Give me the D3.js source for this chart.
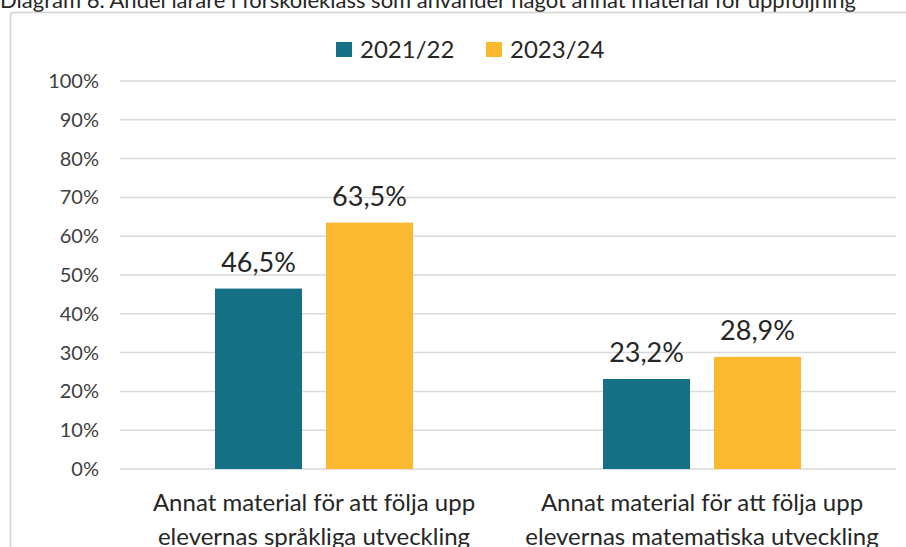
<!DOCTYPE html>
<html>
<head>
<meta charset="utf-8">
<script src="https://cdn.jsdelivr.net/npm/d3@7"></script>
<style>
  body { margin: 0; background: #fff; }
  text { font-family: Lato, "Open Sans", sans-serif; fill: #262626; }
</style>
</head>
<body>
<svg width="906" height="547"></svg>
<script>
// data
var categories = [
    ['Annat material för att följa upp', 'elevernas språkliga utveckling'],
    ['Annat material för att följa upp', 'elevernas matematiska utveckling']
];
var seriesNames = ['2021/22', '2023/24'];
var values2122 = [46.5, 23.2];
var values2324 = [63.5, 28.9];
var yTicks = [0, 10, 20, 30, 40, 50, 60, 70, 80, 90, 100];
var colors = ['#167085', '#fbb931'];

var svg = d3.select('svg');
var padding = {t: 81, r: 10, b: 78, l: 120};
var plotW = 896 - padding.l;
var plotH = 469 - padding.t;

// title, top is cut off in the original
svg.append('text')
    .attr('x', 0)
    .attr('y', 8)
    .style('font-size', '22px')
    .text('Diagram 6. Andel lärare i förskoleklass som använder något annat material för uppföljning');

// chart frame
svg.append('rect')
    .attr('x', 10.5)
    .attr('y', 12.5)
    .attr('width', 1000)
    .attr('height', 1000)
    .attr('rx', 3)
    .style('fill', '#fff')
    .style('stroke', '#d4d4d4')
    .style('stroke-width', 1.5);

var xScale = d3.scaleBand()
    .domain(d3.range(categories.length))
    .range([0, plotW]);
var xInner = d3.scaleBand()
    .domain(seriesNames)
    .range([95, 293])
    .paddingInner(0.216);
var yScale = d3.scaleLinear().domain([0, 100]).range([plotH, 0]);

var chartG = svg.append('g')
    .attr('transform', 'translate(' + [padding.l, padding.t] + ')');

// gridlines
chartG.selectAll('.grid')
    .data(yTicks)
    .enter()
    .append('line')
    .attr('class', 'grid')
    .attr('x1', 0)
    .attr('x2', plotW)
    .attr('y1', function(d) { return yScale(d); })
    .attr('y2', function(d) { return yScale(d); })
    .style('stroke', '#d9d9d9')
    .style('stroke-width', 1.5);

// y axis labels
var yAxis = d3.axisLeft(yScale)
    .tickValues(yTicks)
    .tickSize(0)
    .tickPadding(21)
    .tickFormat(function(d) { return d + '%'; });
chartG.append('g')
    .attr('class', 'y axis')
    .call(yAxis)
    .call(function(g) { g.select('.domain').remove(); })
    .selectAll('text')
    .style('font-size', '20px')
    .style('fill', '#404040');

var seriesData = [values2122, values2324];
seriesData.forEach(function(vals, s) {
    var g = chartG.append('g').attr('class', 'series');
    g.selectAll('rect')
        .data(vals)
        .enter()
        .append('rect')
        .attr('x', function(d, i) { return xScale(i) + xInner(seriesNames[s]); })
        .attr('y', function(d) { return yScale(d); })
        .attr('width', xInner.bandwidth())
        .attr('height', function(d) { return plotH - yScale(d); })
        .style('fill', colors[s]);
    g.selectAll('text')
        .data(vals)
        .enter()
        .append('text')
        .attr('x', function(d, i) { return xScale(i) + xInner(seriesNames[s]) + xInner.bandwidth() / 2; })
        .attr('y', function(d) { return yScale(d) - 17; })
        .attr('text-anchor', 'middle')
        .style('font-size', '27px')
        .text(function(d) { return d.toFixed(1).replace('.', ',') + '%'; });
});

// category labels
var catG = chartG.selectAll('.cat')
    .data(categories)
    .enter()
    .append('text')
    .attr('class', 'cat')
    .attr('text-anchor', 'middle')
    .style('font-size', '24px');
catG.selectAll('tspan')
    .data(function(d, i) { return d.map(function(t) { return {t: t, i: i}; }); })
    .enter()
    .append('tspan')
    .attr('x', function(d) { return xScale(d.i) + xScale.bandwidth() / 2; })
    .attr('y', function(d, j) { return plotH + 42 + j * 34; })
    .text(function(d) { return d.t; });

// legend
var legendG = svg.append('g').attr('transform', 'translate(336, 42)');
var legendX = [0, 150];
seriesNames.forEach(function(name, i) {
    legendG.append('rect')
        .attr('x', legendX[i])
        .attr('y', 0)
        .attr('width', 16)
        .attr('height', 15)
        .style('fill', colors[i]);
    legendG.append('text')
        .attr('x', legendX[i] + 24)
        .attr('y', 16)
        .style('font-size', '24px')
        .text(name);
});
</script>
</body>
</html>
